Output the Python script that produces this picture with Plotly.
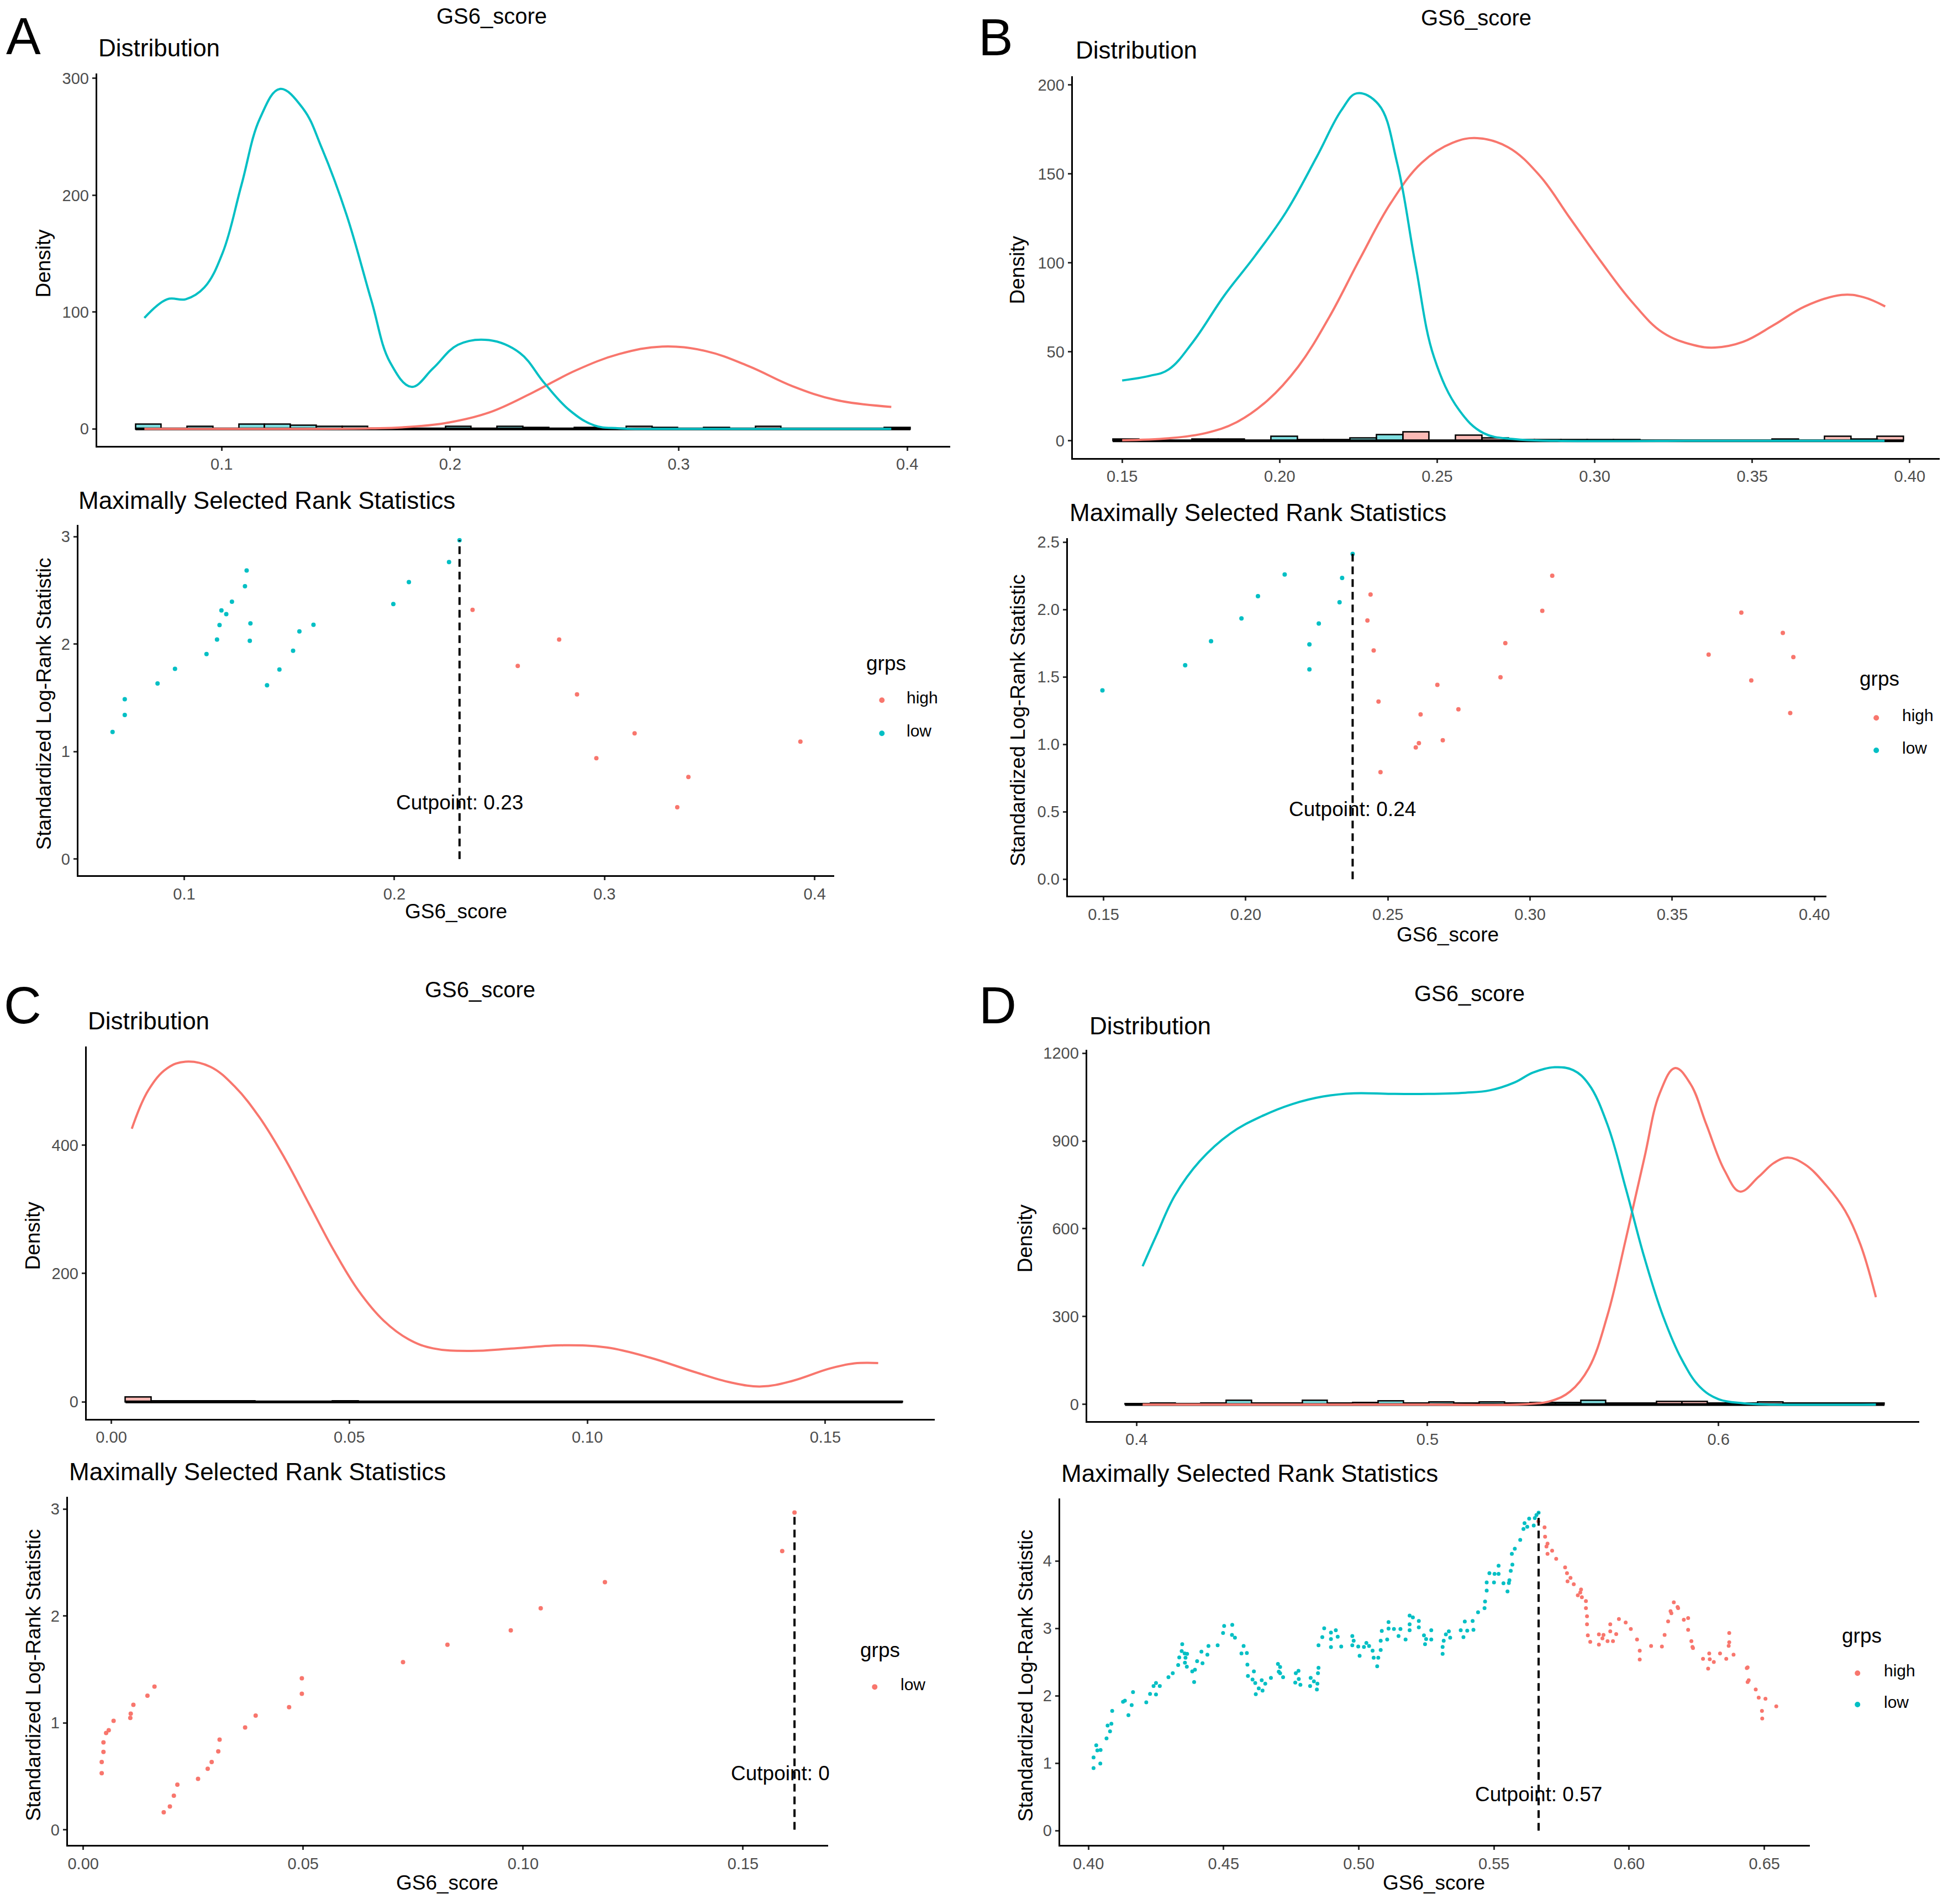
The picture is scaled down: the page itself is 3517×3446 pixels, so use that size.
import plotly.graph_objects as go

W, H = 3517, 3446
TEAL = "#00BFC4"
RED = "#F8766D"
TEAL_FILL = "rgba(0,191,196,0.5)"
RED_FILL = "rgba(248,118,109,0.5)"
FONT = "Liberation Sans, Arial, Helvetica, sans-serif"

# ======================= DATA =======================
# ---- Panel A ----
a_low_x = [0.0659, 0.0717, 0.0717, 0.0873, 0.0956, 0.1106, 0.1156, 0.1168, 0.1177, 0.1200, 0.1227, 0.1289,
           0.1297, 0.1312, 0.1315, 0.1394, 0.1453, 0.1518, 0.1548, 0.1615, 0.1995, 0.2069, 0.2260, 0.2310]
a_low_y = [1.183, 1.341, 1.487, 1.634, 1.769, 1.907, 2.042, 2.177, 2.313, 2.279, 2.394, 2.538,
           2.685, 2.031, 2.192, 1.617, 1.763, 1.938, 2.118, 2.180, 2.372, 2.577, 2.763, 2.966]
a_high_x = [0.2372, 0.2587, 0.2784, 0.2869, 0.2961, 0.3143, 0.3346, 0.3399, 0.3932]
a_high_y = [2.318, 1.797, 2.042, 1.532, 0.938, 1.169, 0.482, 0.763, 1.093]
a_cut = 0.231
a_dens_x_low = [0.0662, 0.0762, 0.0843, 0.0924, 0.1005, 0.1087, 0.1168, 0.1255, 0.1357, 0.1439, 0.1547, 0.1655,
                0.1737, 0.1831, 0.1926, 0.2034, 0.2170, 0.2305, 0.2413, 0.2522, 0.2630, 0.2738, 0.30, 0.35, 0.393]
a_dens_low = [95, 111, 111, 121, 151, 209, 266, 291, 274, 240, 183, 110,
              57, 36, 52, 72, 76, 65, 39, 16, 3, 0.5, 0, 0, 0]
a_dens_x_high = [0.0662, 0.12, 0.1655, 0.179, 0.198, 0.217, 0.236, 0.2549, 0.2738, 0.2928, 0.3118, 0.3307,
                 0.3497, 0.3686, 0.393]
a_dens_high = [0, 0, 0.5, 1.3, 5, 14, 31, 50, 64, 70.5, 66.6, 53.6, 36.6, 24.8, 18.8]
a_hist_x = [0.0680, 0.0793, 0.0906, 0.1019, 0.1132, 0.1245, 0.1358, 0.1471, 0.1584, 0.1697, 0.1810, 0.1923,
            0.2036, 0.2149, 0.2262, 0.2375, 0.2488, 0.2601, 0.2714, 0.2827, 0.2940, 0.3053, 0.3166, 0.3279,
            0.3392, 0.3505, 0.3618, 0.3731, 0.3844, 0.3957]
a_hist_low = [4, 0, 2, 0, 4, 4, 3, 2, 2, 0, 0, 0, 2, 0, 2, 0, 0, 0, 0, 0, 0, 0, 0, 0, 0, 0, 0, 0, 0, 0]
a_hist_high = [0, 0, 0, 0, 0, 0, 0, 0, 0, 0, 0, 0, 0, 0, 0, 1, 0, 1, 0, 2, 1, 0, 1, 0, 2, 0, 0, 0, 0, 1]

# ---- Panel B ----
b_low_x = [0.1496, 0.1787, 0.1878, 0.1985, 0.2043, 0.2137, 0.2224, 0.2224, 0.2257, 0.2330, 0.2339, 0.2376]
b_low_y = [1.401, 1.587, 1.765, 1.935, 2.099, 2.260, 1.742, 1.556, 1.897, 2.054, 2.235, 2.413]
b_high_x = [0.2439, 0.2428, 0.2450, 0.2467, 0.2474, 0.2598, 0.2609, 0.2615, 0.2674, 0.2693, 0.2748, 0.2896,
            0.2913, 0.3043, 0.3078, 0.3628, 0.3743, 0.3778, 0.3889, 0.3915, 0.3926]
b_high_y = [2.112, 1.919, 1.697, 1.318, 0.794, 0.978, 1.009, 1.222, 1.442, 1.031, 1.260, 1.498,
            1.751, 1.991, 2.251, 1.666, 1.978, 1.475, 1.827, 1.233, 1.648]
b_cut = 0.2376
b_dens_x_low = [0.15, 0.1588, 0.1647, 0.1725, 0.1824, 0.1922, 0.2020, 0.2118, 0.2196, 0.2245, 0.2314, 0.2373,
                0.2431, 0.2490, 0.2569, 0.2647, 0.2745, 0.288, 0.34, 0.392]
b_dens_low = [33.9, 36.5, 40, 55.6, 81.6, 104, 128.5, 159.7, 185.8, 195.3, 189, 156,
              99, 46.9, 17.4, 4.3, 0.9, 0, 0, 0]
b_dens_x_high = [0.15, 0.1647, 0.1765, 0.1863, 0.1961, 0.2059, 0.2157, 0.2255, 0.2353, 0.2451, 0.2549, 0.2627,
                 0.2725, 0.2824, 0.2922, 0.3020, 0.3118, 0.3216, 0.3314, 0.3382, 0.3471, 0.3569, 0.3667, 0.3784,
                 0.3853, 0.3922]
b_dens_high = [0.3, 1.4, 4.3, 10.4, 22.6, 41.7, 69.4, 102.4, 133.7, 156.3, 167.5, 170.1,
               165, 149.3, 125, 100.7, 78.1, 60.8, 53.8, 52.4, 55.6, 65.1, 75.5, 82, 80.7, 75.5]
b_hist_x = [0.1512, 0.1596, 0.1679, 0.1763, 0.1847, 0.1930, 0.2014, 0.2098, 0.2182, 0.2265, 0.2349, 0.2433,
            0.2516, 0.2600, 0.2684, 0.2767, 0.2851, 0.2935, 0.3018, 0.3102, 0.3186, 0.3270, 0.3353, 0.3437,
            0.3521, 0.3605, 0.3688, 0.3772, 0.3856, 0.3939]
b_hist_low = [1, 0, 0, 1, 1, 0, 2.5, 0.8, 0.8, 1.7, 3.5, 0, 0, 0, 0, 0, 0, 0, 0, 0, 0, 0, 0, 0, 0, 0, 0, 0, 0, 0]
b_hist_high = [0, 0, 0, 0, 0, 0, 0, 0, 0, 0, 0, 5, 0, 3, 1.5, 0.8, 0.8, 0.8, 0.8, 0.8, 0, 0, 0, 0, 0, 1, 0, 2.5, 1, 2.5]

# ---- Panel C ----
c_x = [0.0042, 0.0042, 0.0046, 0.0046, 0.0052, 0.0058, 0.0069, 0.0107, 0.0108, 0.0114, 0.0146, 0.0162,
       0.0183, 0.0197, 0.0206, 0.0214, 0.0261, 0.0283, 0.0292, 0.0307, 0.0310, 0.0368, 0.0392, 0.0468,
       0.0497, 0.0497, 0.0727, 0.0828, 0.0972, 0.1040, 0.1186, 0.1589, 0.1617]
c_y = [0.529, 0.633, 0.728, 0.817, 0.904, 0.931, 1.018, 1.045, 1.086, 1.168, 1.254, 1.339,
       0.163, 0.217, 0.318, 0.421, 0.475, 0.570, 0.633, 0.733, 0.842, 0.956, 1.067, 1.146,
       1.271, 1.417, 1.567, 1.730, 1.865, 2.072, 2.316, 2.607, 2.968]
c_cut = 0.1617
c_dens_x = [0.0043, 0.0078, 0.0117, 0.0156, 0.0208, 0.0260, 0.0312, 0.0364, 0.0416, 0.0468, 0.0520, 0.0572,
            0.0624, 0.0676, 0.0755, 0.0846, 0.0950, 0.1041, 0.1132, 0.1223, 0.1301, 0.1366, 0.1431, 0.1509,
            0.1561, 0.1611]
c_dens = [425.5, 485.8, 519.5, 530, 522, 490.6, 442.4, 379.8, 307.5, 235.2, 172.5, 126.7,
          97.8, 83.4, 79.5, 83.4, 88.2, 84.8, 68.9, 47.2, 30.4, 24.1, 32.8, 52, 60, 60.5]
c_hist_x = [0.0057, 0.0111, 0.0166, 0.0220, 0.0275, 0.0329, 0.0383, 0.0438, 0.0492, 0.0547, 0.0601, 0.0655,
            0.0710, 0.0764, 0.0819, 0.0873, 0.0927, 0.0982, 0.1036, 0.1091, 0.1145, 0.1199, 0.1254, 0.1308,
            0.1363, 0.1417, 0.1471, 0.1526, 0.1580, 0.1635]
c_hist = [8, 2, 2, 2, 2, 1, 1, 1, 1.5, 0, 0, 0, 1, 0, 1, 0, 0, 1, 1, 0, 0, 1, 0, 0, 0, 0, 0, 0, 1, 1]

# ---- Panel D ----
d_low_x = [0.4019, 0.4019, 0.4044, 0.4029, 0.4033, 0.4045, 0.4067, 0.4080, 0.4071, 0.4085,
           0.4088, 0.4128, 0.4135, 0.4148, 0.4160, 0.4165, 0.4214, 0.4228, 0.4241, 0.4250,
           0.4250, 0.4264, 0.4296, 0.4312, 0.4332, 0.4336, 0.4345, 0.4347, 0.4356, 0.4359,
           0.4365, 0.4357, 0.4364, 0.4384, 0.4394, 0.4391, 0.4402, 0.4422, 0.4418, 0.4440,
           0.4444, 0.4478, 0.4498, 0.4502, 0.4532, 0.4531, 0.4542, 0.4566, 0.4574, 0.4586,
           0.4588, 0.4612, 0.4590, 0.4607, 0.4617, 0.4619, 0.4630,
           0.4641, 0.4644, 0.4654, 0.4675, 0.4701, 0.4709, 0.4704, 0.4709, 0.4720,
           0.4765, 0.4767, 0.4777, 0.4778, 0.4784,
           0.4820, 0.4822, 0.4834, 0.4847, 0.4845, 0.4849, 0.4851, 0.4851,
           0.4865, 0.4872,
           0.4897, 0.4897, 0.4897, 0.4915, 0.4922, 0.4935,
           0.4976, 0.4981, 0.4976, 0.4998, 0.5003, 0.5019, 0.5028, 0.5038, 0.5051, 0.5055,
           0.5072, 0.5068, 0.5081, 0.5081, 0.5085, 0.5105, 0.5110, 0.5110, 0.5130, 0.5147,
           0.5154, 0.5173, 0.5188, 0.5188, 0.5188, 0.5200, 0.5222, 0.5222, 0.5241, 0.5249,
           0.5245, 0.5268, 0.5268,
           0.5310, 0.5310, 0.5314, 0.5322, 0.5333, 0.5338,
           0.5377, 0.5387, 0.5392, 0.5401, 0.5421, 0.5424, 0.5441, 0.5465, 0.5467, 0.5473,
           0.5473, 0.5483, 0.5500, 0.5502, 0.5517, 0.5517, 0.5535, 0.5550, 0.5555, 0.5557,
           0.5562, 0.5568, 0.5566, 0.5577, 0.5597, 0.5609, 0.5613, 0.5623, 0.5630, 0.5647,
           0.5651, 0.5657, 0.5665]
d_low_y = [0.928, 1.087, 0.997, 1.266, 1.190, 1.197, 1.369, 1.473, 1.559, 1.587,
           1.776, 1.911, 1.928, 1.714, 1.863, 2.056, 1.904, 2.028, 2.146, 2.021,
           2.190, 2.146, 2.277, 2.335, 2.456, 2.570, 2.663, 2.767, 2.628, 2.566,
           2.622, 2.491, 2.432, 2.363, 2.387, 2.204, 2.515, 2.484, 2.656, 2.611,
           2.739, 2.749, 2.932, 3.036, 3.053, 2.904, 2.863, 2.628, 2.739, 2.635,
           2.463, 2.363, 2.294, 2.242, 2.190, 2.025, 2.111,
           2.232, 2.077, 2.180, 2.266, 2.473, 2.428, 2.359, 2.335, 2.277,
           2.197, 2.335, 2.370, 2.249, 2.163,
           2.146, 2.266, 2.215, 2.180, 2.094, 2.335, 2.415, 2.749,
           2.870, 3.001,
           2.939, 2.842, 2.722, 2.973, 2.877, 2.732,
           2.887, 2.818, 2.749, 2.732, 2.594, 2.725, 2.784, 2.739, 2.670, 2.566,
           2.566, 2.439, 2.680, 2.818, 2.963, 2.835, 2.998, 3.094, 2.991, 2.887,
           2.991, 2.835, 2.973, 3.060, 3.191, 3.163, 3.111, 3.015, 2.898, 2.842,
           2.767, 2.973, 2.835,
           2.622, 2.725, 2.818, 2.911, 2.956, 2.863,
           2.973, 2.870, 3.101, 2.966, 3.111, 2.980, 3.239, 3.301, 3.398, 3.560,
           3.681, 3.819, 3.681, 3.808, 3.929, 3.808, 3.670, 3.549, 3.674, 3.715,
           3.853, 3.946, 4.105, 4.181, 4.312, 4.474, 4.560, 4.508, 4.629, 4.526,
           4.636, 4.681, 4.716]
d_high_x = [0.5664, 0.5687, 0.5689, 0.5698, 0.5694, 0.5715, 0.5698, 0.5730, 0.5763, 0.5770,
            0.5783, 0.5772, 0.5795, 0.5822, 0.5819, 0.5810, 0.5825, 0.5840, 0.5840, 0.5844,
            0.5844, 0.5847, 0.5856, 0.5888, 0.5888, 0.5901, 0.5905,
            0.5920, 0.5930, 0.5930, 0.5940, 0.5952, 0.5962, 0.5987, 0.6006, 0.6029, 0.6039,
            0.6039, 0.6081, 0.6121, 0.6131, 0.6144, 0.6153, 0.6156, 0.6165, 0.6179, 0.6181,
            0.6202, 0.6218, 0.6218, 0.6230, 0.6234, 0.6236, 0.6273, 0.6292, 0.6296, 0.6298,
            0.6313, 0.6336, 0.6359, 0.6368, 0.6370, 0.6370, 0.6386, 0.6435, 0.6438, 0.6438,
            0.6442, 0.6468, 0.6479, 0.6504, 0.6491, 0.6492, 0.6544]
d_high_y = [4.588, 4.498, 4.360, 4.257, 4.215, 4.153, 4.105, 4.032, 3.905, 3.819,
            3.750, 3.698, 3.656, 3.577, 3.532, 3.491, 3.463, 3.405, 3.301, 3.180,
            3.060, 2.898, 2.801, 2.911, 2.760, 2.853, 2.904,
            2.811, 3.060, 2.956, 2.811, 2.915, 3.139, 3.087, 2.991, 2.835, 2.670,
            2.539, 2.739, 2.732, 2.904, 3.104, 3.256, 3.225, 3.387, 3.318, 3.301,
            3.129, 3.153, 2.980, 2.811, 2.725, 2.708, 2.549, 2.404, 2.629, 2.542,
            2.501, 2.629, 2.549, 2.742, 2.794, 2.932, 2.611, 2.411, 2.422, 2.204,
            2.232, 2.094, 1.973, 1.956, 1.776, 1.663, 1.845]
d_cut = 0.5665
d_dens_x_low = [0.4021, 0.4068, 0.4132, 0.4217, 0.4323, 0.4429, 0.4535, 0.4641, 0.4747, 0.4875, 0.5002, 0.5130,
                0.5214, 0.5299, 0.5363, 0.5437, 0.5501, 0.5554, 0.5618, 0.5682, 0.5745, 0.5809, 0.5873, 0.5936,
                0.6000, 0.6085, 0.6191, 0.6541]
d_dens_low = [472, 577, 714, 831, 926, 984, 1026, 1052, 1063, 1061, 1061, 1065,
              1073, 1100, 1134, 1152, 1142, 1094, 957, 736, 503, 303, 155, 60,
              18, 4, 0, 0]
d_dens_x_high = [0.4021, 0.5000, 0.5342, 0.5427, 0.5490, 0.5554, 0.5618, 0.5682, 0.5745, 0.5798, 0.5851, 0.5904,
                 0.5958, 0.6021, 0.6074, 0.6138, 0.6191, 0.6238, 0.6297, 0.6372, 0.6435, 0.6488, 0.6541]
d_dens_high = [0, 0, 1, 12.7, 44.3, 123.5, 302.9, 566.8, 841.2, 1062.8, 1149.3, 1094.5,
               957.3, 798.9, 727.2, 777.8, 825.3, 843.3, 820, 746.2, 661.7, 545.6, 366.2]
d_hist_x = [0.4004, 0.4091, 0.4178, 0.4265, 0.4352, 0.4439, 0.4526, 0.4613, 0.4700, 0.4787, 0.4874, 0.4961,
            0.5048, 0.5135, 0.5222, 0.5309, 0.5396, 0.5483, 0.5570, 0.5657, 0.5744, 0.5831, 0.5918, 0.6005,
            0.6092, 0.6179, 0.6266, 0.6353, 0.6440, 0.6527]
d_hist_low = [2, 4, 2, 4, 14, 4, 4, 14, 4, 6, 12, 4, 8, 4, 8, 4, 6, 6, 14, 4, 0, 0, 0, 0, 0, 0, 0, 0, 0, 0]
d_hist_high = [0, 0, 0, 0, 0, 0, 0, 0, 0, 0, 0, 0, 0, 0, 0, 0, 0, 0, 0, 0, 4, 10, 10, 4, 4, 8, 4, 4, 4, 4]

# ---- tick labels ----
a_dist_xt = [0.1, 0.2, 0.3, 0.4]; a_dist_xl = ["0.1", "0.2", "0.3", "0.4"]
a_dist_yt = [0, 100, 200, 300]; a_dist_yl = ["0", "100", "200", "300"]
a_scat_xt = [0.1, 0.2, 0.3, 0.4]; a_scat_xl = ["0.1", "0.2", "0.3", "0.4"]
a_scat_yt = [0, 1, 2, 3]; a_scat_yl = ["0", "1", "2", "3"]
b_dist_xt = [0.15, 0.20, 0.25, 0.30, 0.35, 0.40]; b_dist_xl = ["0.15", "0.20", "0.25", "0.30", "0.35", "0.40"]
b_dist_yt = [0, 50, 100, 150, 200]; b_dist_yl = ["0", "50", "100", "150", "200"]
b_scat_xt = [0.15, 0.20, 0.25, 0.30, 0.35, 0.40]; b_scat_xl = ["0.15", "0.20", "0.25", "0.30", "0.35", "0.40"]
b_scat_yt = [0, 0.5, 1.0, 1.5, 2.0, 2.5]; b_scat_yl = ["0.0", "0.5", "1.0", "1.5", "2.0", "2.5"]
c_dist_xt = [0, 0.05, 0.10, 0.15]; c_dist_xl = ["0.00", "0.05", "0.10", "0.15"]
c_dist_yt = [0, 200, 400]; c_dist_yl = ["0", "200", "400"]
c_scat_xt = [0, 0.05, 0.10, 0.15]; c_scat_xl = ["0.00", "0.05", "0.10", "0.15"]
c_scat_yt = [0, 1, 2, 3]; c_scat_yl = ["0", "1", "2", "3"]
d_dist_xt = [0.4, 0.5, 0.6]; d_dist_xl = ["0.4", "0.5", "0.6"]
d_dist_yt = [0, 300, 600, 900, 1200]; d_dist_yl = ["0", "300", "600", "900", "1200"]
d_scat_xt = [0.40, 0.45, 0.50, 0.55, 0.60, 0.65]; d_scat_xl = ["0.40", "0.45", "0.50", "0.55", "0.60", "0.65"]
d_scat_yt = [0, 1, 2, 3, 4]; d_scat_yl = ["0", "1", "2", "3", "4"]

# ======================= FIGURE =======================
fig = go.Figure()
axes_layout = {}
annotations = []
shapes = []
DY = 7      # vertical correction of plot panels (px)
TSHIFT = 9  # vertical correction of horizontal texts (px)


def add_axes(i, box, xr, yr, xtv, xtt, ytv, ytt):
    L, R, T, B = box
    T -= DY
    B -= DY
    s = "" if i == 1 else str(i)
    common = dict(showline=True, linecolor="black", linewidth=3, ticks="outside", ticklen=6,
                  tickwidth=2.5, tickcolor="#333333",
                  tickfont=dict(family=FONT, size=29, color="#4D4D4D"),
                  showgrid=False, zeroline=False, fixedrange=True)
    axes_layout["xaxis" + s] = dict(domain=[L / W, R / W], range=xr, anchor="y" + s,
                                    tickvals=xtv, ticktext=xtt, **common)
    axes_layout["yaxis" + s] = dict(domain=[1 - B / H, 1 - T / H], range=yr, anchor="x" + s,
                                    tickvals=ytv, ticktext=ytt, **common)
    return "x" + s, "y" + s


def text(x, y, t, size, xanchor="center", yanchor="middle", angle=0, color="black", shift=None):
    if shift is None:
        shift = TSHIFT if angle == 0 else 0
    annotations.append(dict(x=x / W, y=1 - y / H, xref="paper", yref="paper", text=t, showarrow=False,
                            xanchor=xanchor, yanchor=yanchor, textangle=angle, yshift=shift,
                            font=dict(family=FONT, size=size, color=color)))


def hist(xa, ya, centers, vals, width, fill):
    fig.add_trace(go.Bar(x=centers, y=vals, width=width, xaxis=xa, yaxis=ya,
                         marker=dict(color=fill, line=dict(color="black", width=2.5)),
                         hoverinfo="skip", showlegend=False))


def baseline(xa, ya, centers, width):
    fig.add_trace(go.Scatter(x=[centers[0] - width / 2, centers[-1] + width / 2], y=[0, 0], mode="lines",
                             line=dict(color="black", width=5), xaxis=xa, yaxis=ya,
                             hoverinfo="skip", showlegend=False))


def dens(xa, ya, xs, ys, color):
    fig.add_trace(go.Scatter(x=xs, y=ys, mode="lines", xaxis=xa, yaxis=ya,
                             line=dict(color=color, width=4, shape="spline", smoothing=1.1),
                             hoverinfo="skip", showlegend=False))


def pts(xa, ya, xs, ys, color, size=8):
    fig.add_trace(go.Scatter(x=xs, y=ys, mode="markers", xaxis=xa, yaxis=ya,
                             marker=dict(color=color, size=size, line=dict(width=0)),
                             showlegend=False))


def cutline(xa, ya, c, top, label_x, label):
    fig.add_trace(go.Scatter(x=[c, c], y=[0, top], mode="lines", xaxis=xa, yaxis=ya,
                             line=dict(color="black", width=4, dash="14px,9px"),
                             hoverinfo="skip", showlegend=False))
    annotations.append(dict(x=label_x, y=0.5, xref=xa, yref=ya, text=label, showarrow=False,
                            xanchor="center", yanchor="middle", yshift=5,
                            font=dict(family=FONT, size=37, color="black")))


def legend(tx, ty, entries, mx, lx):
    text(tx, ty, "grps", 37, xanchor="left")
    for color, lab, yy in entries:
        r = 5
        cy = yy - 4
        shapes.append(dict(type="circle", xref="paper", yref="paper",
                           x0=(mx - r) / W, x1=(mx + r) / W, y0=1 - (cy + r) / H, y1=1 - (cy - r) / H,
                           fillcolor=color, line=dict(width=0)))
        text(lx, yy, lab, 30, xanchor="left")


def letter(x, y_top, t):
    text(x, y_top, t, 94, yanchor="top", shift=0)


# ---------- Panel A ----------
xa, ya = add_axes(1, (176, 1723, 130, 806), [0.0455, 0.4188], [-14.4, 304.4],
                  a_dist_xt, a_dist_xl, a_dist_yt, a_dist_yl)
baseline(xa, ya, a_hist_x, 0.0113)
hist(xa, ya, a_hist_x, a_hist_low, 0.0113, TEAL_FILL)
hist(xa, ya, a_hist_x, a_hist_high, 0.0113, RED_FILL)
dens(xa, ya, a_dens_x_high, a_dens_high, RED)
dens(xa, ya, a_dens_x_low, a_dens_low, TEAL)

xa, ya = add_axes(2, (142, 1513, 950, 1586), [0.0496, 0.4094], [-0.152, 3.107],
                  a_scat_xt, a_scat_xl, a_scat_yt, a_scat_yl)
pts(xa, ya, a_high_x, a_high_y, RED, 8)
pts(xa, ya, a_low_x, a_low_y, TEAL, 8)
cutline(xa, ya, a_cut, 2.966, a_cut, "Cutpoint: 0.23")

letter(43, 1, "A")
text(892, 28, "GS6_score", 40)
text(176, 86, "Distribution", 44, xanchor="left")
text(79, 468, "Density", 37, angle=-90)
text(140, 907, "Maximally Selected Rank Statistics", 44, xanchor="left")
text(79, 1267, "Standardized Log-Rank Statistic", 37, angle=-90)
text(827, 1653, "GS6_score", 37)
legend(1569, 1203, [(RED, "high", 1265), (TEAL, "low", 1325)], 1599, 1642)

# ---------- Panel B ----------
xa, ya = add_axes(3, (1945, 3517, 135, 828), [0.1343, 0.4095], [-9.6, 205],
                  b_dist_xt, b_dist_xl, b_dist_yt, b_dist_yl)
baseline(xa, ya, b_hist_x, 0.00837)
hist(xa, ya, b_hist_x, b_hist_low, 0.00837, TEAL_FILL)
hist(xa, ya, b_hist_x, b_hist_high, 0.00837, RED_FILL)
dens(xa, ya, b_dens_x_high, b_dens_high, RED)
dens(xa, ya, b_dens_x_low, b_dens_low, TEAL)

xa, ya = add_axes(4, (1936, 3312, 974, 1623), [0.1374, 0.4043], [-0.123, 2.529],
                  b_scat_xt, b_scat_xl, b_scat_yt, b_scat_yl)
pts(xa, ya, b_high_x, b_high_y, RED, 8)
pts(xa, ya, b_low_x, b_low_y, TEAL, 8)
cutline(xa, ya, b_cut, 2.413, b_cut, "Cutpoint: 0.24")

letter(1806, 3, "B")
text(2677, 31, "GS6_score", 40)
text(1948, 90, "Distribution", 44, xanchor="left")
text(1845, 480, "Density", 37, angle=-90)
text(1937, 929, "Maximally Selected Rank Statistics", 44, xanchor="left")
text(1845, 1297, "Standardized Log-Rank Statistic", 37, angle=-90)
text(2625, 1695, "GS6_score", 37)
legend(3370, 1231, [(RED, "high", 1297), (TEAL, "low", 1356)], 3402, 3447)

# ---------- Panel C ----------
xa, ya = add_axes(5, (157, 1695, 1896, 2572), [-0.0052, 0.173], [-26, 554],
                  c_dist_xt, c_dist_xl, c_dist_yt, c_dist_yl)
baseline(xa, ya, c_hist_x, 0.00544)
hist(xa, ya, c_hist_x, c_hist, 0.00544, RED_FILL)
dens(xa, ya, c_dens_x, c_dens, RED)

xa, ya = add_axes(6, (123, 1502, 2714, 3346), [-0.0035, 0.1694], [-0.144, 3.114],
                  c_scat_xt, c_scat_xl, c_scat_yt, c_scat_yl)
pts(xa, ya, c_x, c_y, RED, 8)
cutline(xa, ya, c_cut, 2.968, 0.1585, "Cutpoint: 0")

letter(41, 1760, "C")
text(870, 1795, "GS6_score", 40)
text(157, 1852, "Distribution", 44, xanchor="left")
text(60, 2233, "Density", 37, angle=-90)
text(123, 2670, "Maximally Selected Rank Statistics", 44, xanchor="left")
text(60, 3030, "Standardized Log-Rank Statistic", 37, angle=-90)
text(811, 3416, "GS6_score", 37)
legend(1558, 2994, [(RED, "low", 3056)], 1586, 1631)

# ---------- Panel D ----------
xa, ya = add_axes(7, (1971, 3480, 1903, 2576), [0.383, 0.669], [-56, 1210.6],
                  d_dist_xt, d_dist_xl, d_dist_yt, d_dist_yl)
baseline(xa, ya, d_hist_x, 0.0087)
hist(xa, ya, d_hist_x, d_hist_low, 0.0087, TEAL_FILL)
hist(xa, ya, d_hist_x, d_hist_high, 0.0087, RED_FILL)
dens(xa, ya, d_dens_x_high, d_dens_high, RED)
dens(xa, ya, d_dens_x_low, d_dens_low, TEAL)

xa, ya = add_axes(8, (1922, 3282, 2717, 3346), [0.3895, 0.6669], [-0.213, 4.926],
                  d_scat_xt, d_scat_xl, d_scat_yt, d_scat_yl)
pts(xa, ya, d_high_x, d_high_y, RED, 7)
pts(xa, ya, d_low_x, d_low_y, TEAL, 7)
cutline(xa, ya, d_cut, 4.716, d_cut, "Cutpoint: 0.57")

letter(1809, 1760, "D")
text(2665, 1802, "GS6_score", 40)
text(1973, 1861, "Distribution", 44, xanchor="left")
text(1859, 2238, "Density", 37, angle=-90)
text(1922, 2673, "Maximally Selected Rank Statistics", 44, xanchor="left")
text(1859, 3031, "Standardized Log-Rank Statistic", 37, angle=-90)
text(2600, 3416, "GS6_score", 37)
legend(3338, 2968, [(RED, "high", 3031), (TEAL, "low", 3088)], 3368, 3414)

fig.update_layout(width=W, height=H, margin=dict(l=0, r=0, t=0, b=0),
                  paper_bgcolor="white", plot_bgcolor="white", showlegend=False,
                  barmode="overlay", bargap=0, annotations=annotations, shapes=shapes,
                  font=dict(family=FONT), **axes_layout)

fig.write_html("out.html")
